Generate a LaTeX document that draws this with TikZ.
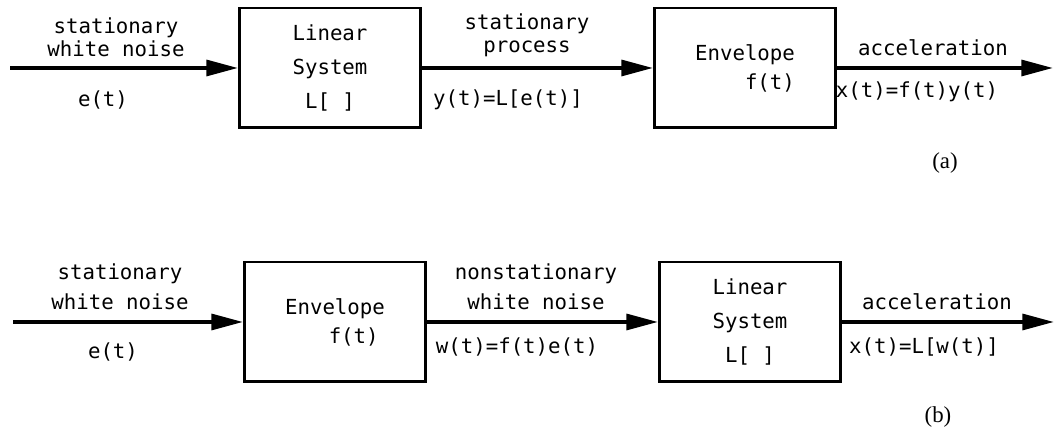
\documentclass[tikz,border=0pt]{standalone}
\usepackage{fontspec}
\setmainfont{Liberation Serif}
\newfontfamily\plotfont{DejaVu Sans Mono}
\usetikzlibrary{arrows.meta}
\tikzset{blk/.style={draw,line width=1.7pt,minimum width=3.62cm,minimum height=2.4cm,inner sep=0pt,
    align=center,font=\plotfont\fontsize{11.8}{19.5}\selectfont},
  lbl/.style={inner sep=0pt,align=center,font=\plotfont\fontsize{11.8}{13}\selectfont},
  flow/.style={line width=2.1pt,-{Triangle[length=18pt,width=9pt]}}}
\begin{document}
\begin{tikzpicture}[x=.02cm,y=.02cm]
\useasboundingbox (0,0) rectangle (1055,435);
% (a): linear filter, then envelope
\node[blk] (lsa) at (330,367) {Linear\\System\\L[ ]};
\node[blk] (enva) at (745,367) {Envelope\\[-3pt]\hphantom{0000}f(t)};
\coordinate (ina) at (10,367); \coordinate (outa) at (1053,367);
% (b): envelope, then linear filter
\node[blk] (envb) at (335,113) {Envelope\\[-3pt]\hphantom{000}f(t)};
\node[blk] (lsb) at (750,113) {Linear\\System\\L[ ]};
\coordinate (inb) at (13,113); \coordinate (outb) at (1054,113);
\foreach \s/\t in {ina/lsa,lsa/enva,enva/outa,inb/envb,envb/lsb,lsb/outb}{\draw[flow] (\s)--(\t);}
% signal names on the arrows
\node[lbl] (wna) at (116,398) {stationary\\white noise}; \node[lbl] (ea) at (103,335) {e(t)};
\node[lbl] (spa) at (527,400) {stationary\\process}; \node[lbl] (ya) at (508,335) {y(t)=L[e(t)]};
\node[lbl] (acca) at (933,387) {acceleration}; \node[lbl] (xa) at (917,343) {x(t)=f(t)y(t)};
\node[lbl] (wnb) at (120,148) {stationary\\[4pt]white noise}; \node[lbl] (eb) at (113,83) {e(t)};
\node[lbl] (nsb) at (536,148) {nonstationary\\[4pt]white noise}; \node[lbl] (wb) at (517,88) {w(t)=f(t)e(t)};
\node[lbl] (accb) at (937,133) {acceleration}; \node[lbl] (xb) at (924,88) {x(t)=L[w(t)]};
\node[font=\fontsize{13}{15}\selectfont] (capa) at (945,272) {(a)};
\node[font=\fontsize{13}{15}\selectfont] (capb) at (938,18) {(b)};
\end{tikzpicture}
\end{document}
